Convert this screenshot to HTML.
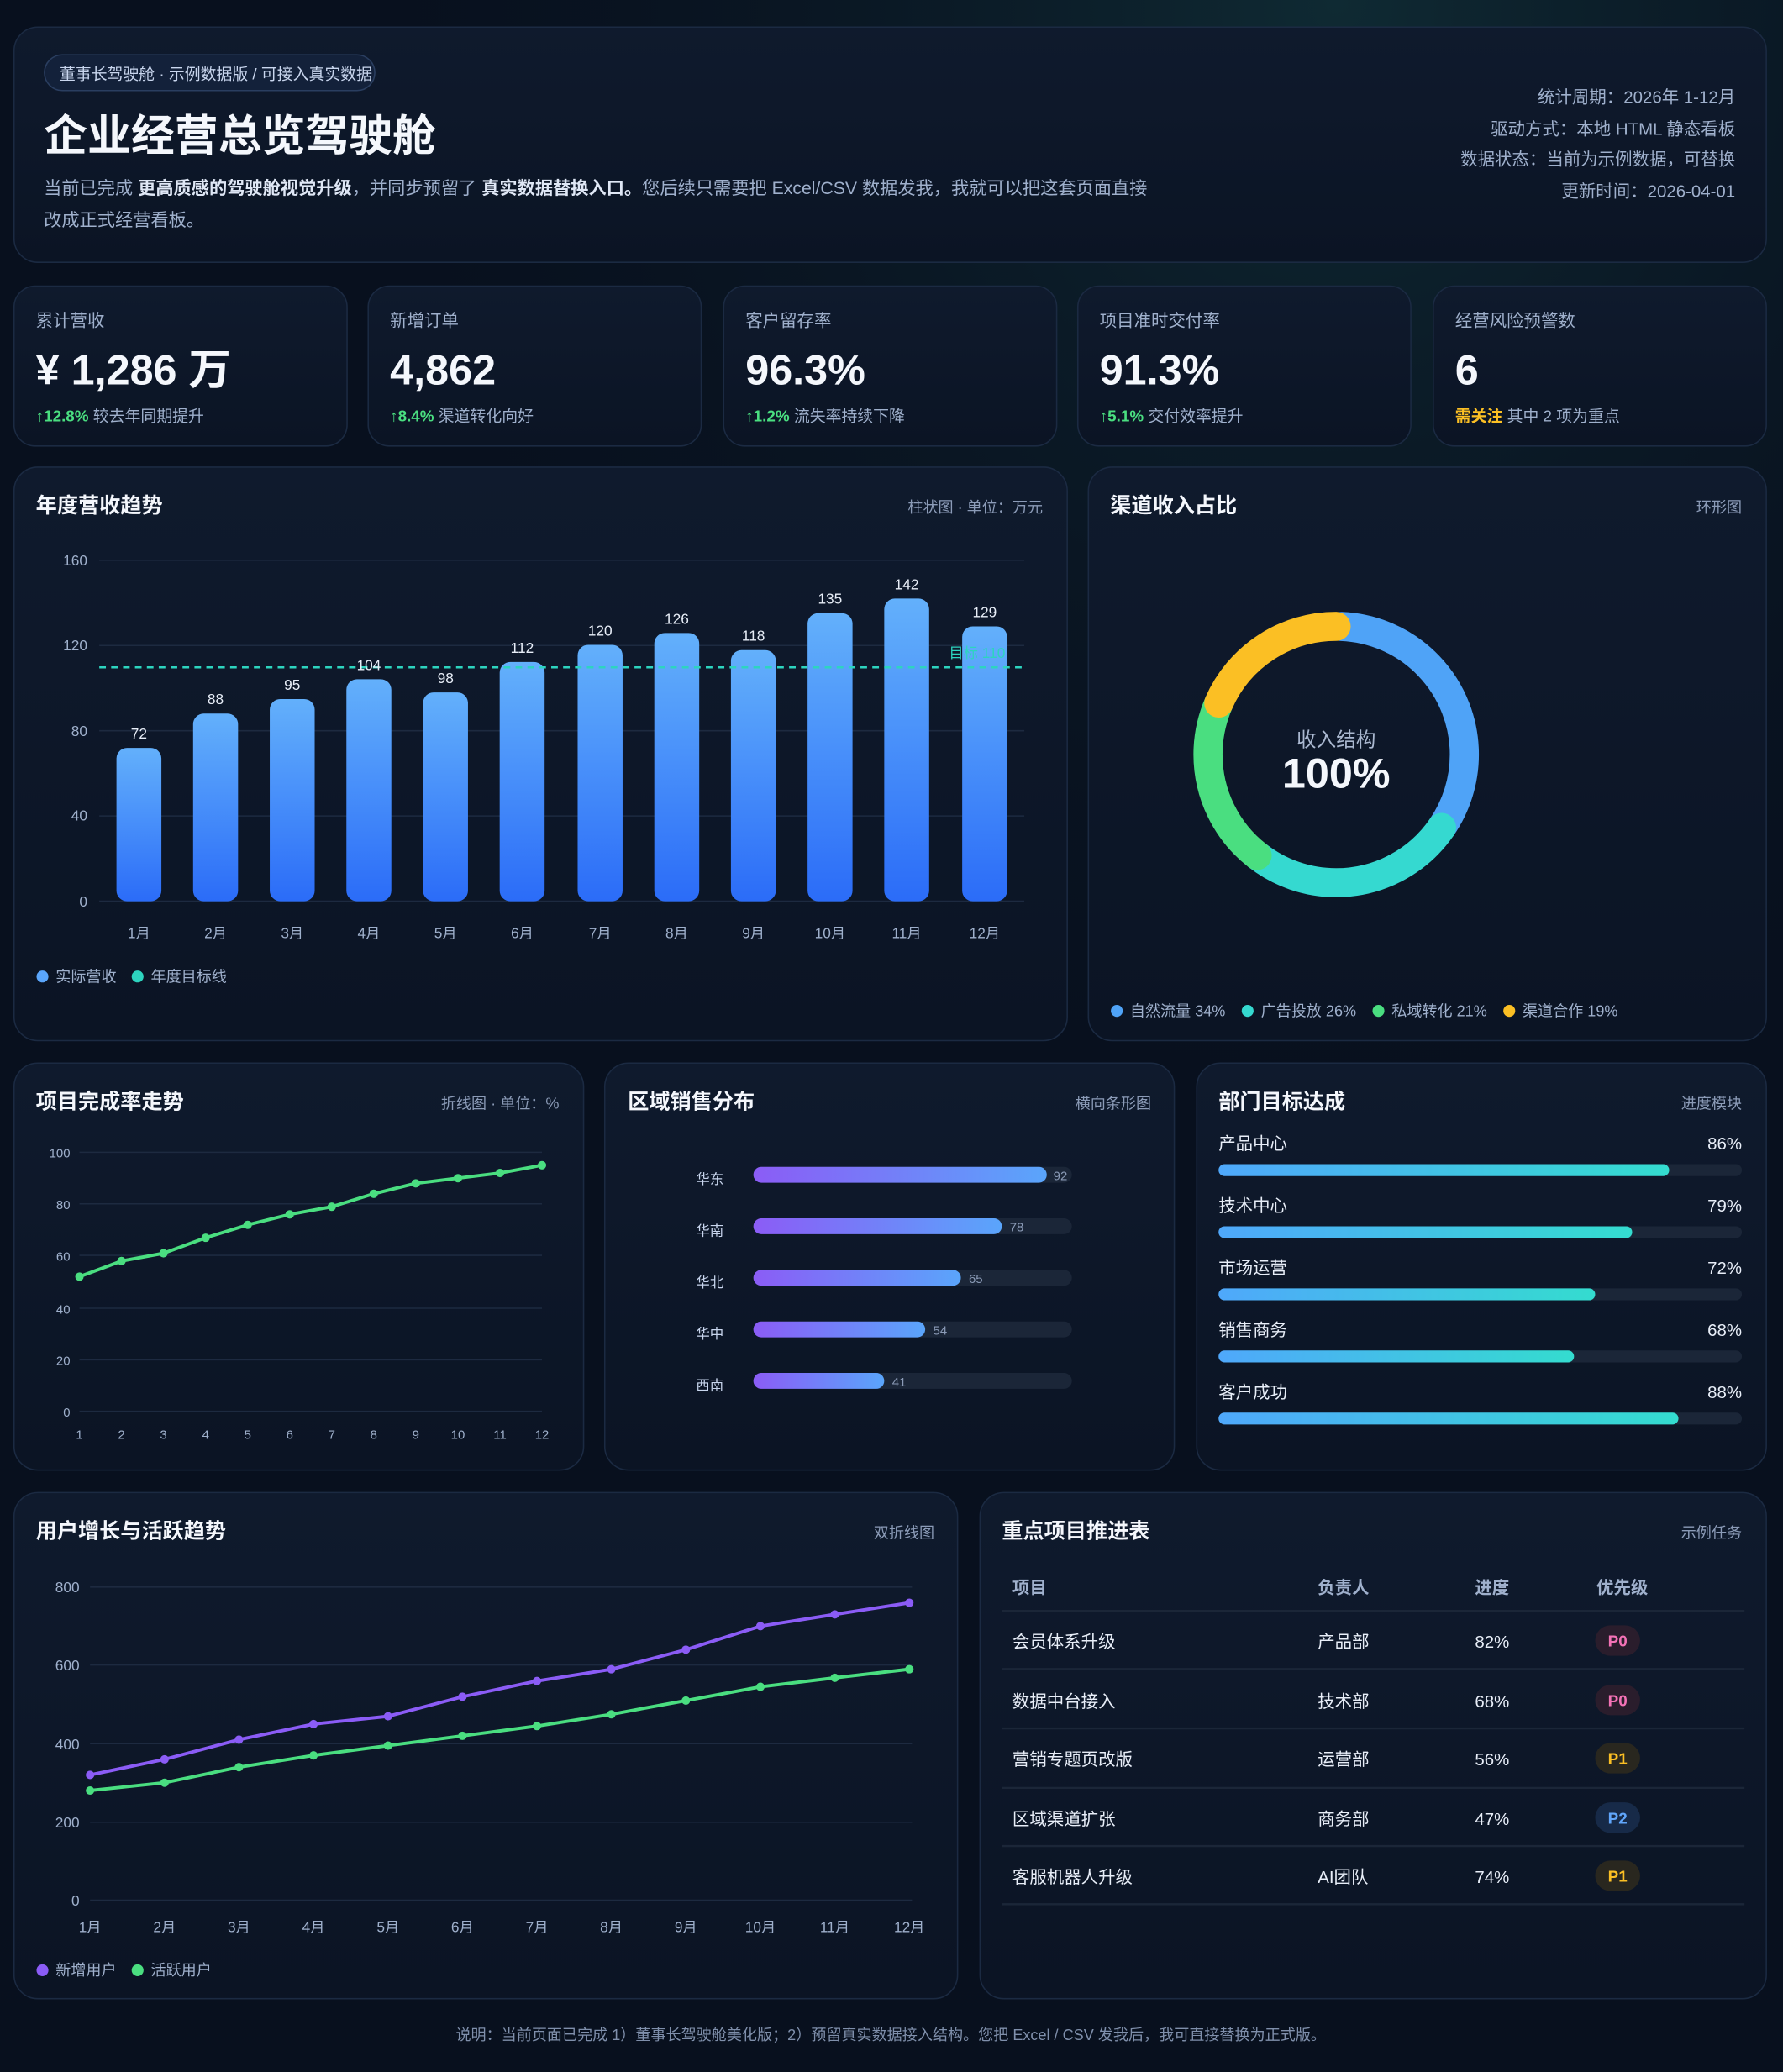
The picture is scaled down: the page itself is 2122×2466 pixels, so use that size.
<!DOCTYPE html>
<html><head><meta charset="utf-8"><style>
html,body{margin:0;padding:0;background:#08101e;}
svg{display:block;font-family:"Liberation Sans","Noto Sans CJK SC",sans-serif;}
</style></head><body>
<svg width="2122" height="2466" viewBox="0 0 1349 1568" xmlns="http://www.w3.org/2000/svg">
<defs>
<radialGradient id="bgg" cx="0.75" cy="0" r="0.6"><stop offset="0" stop-color="#0f2a33"/><stop offset="1" stop-color="#08101e" stop-opacity="0"/></radialGradient>
<linearGradient id="pan" x1="0" y1="0" x2="0" y2="1"><stop offset="0" stop-color="#0f1a2d"/><stop offset="1" stop-color="#0b1424"/></linearGradient>
<linearGradient id="bar" x1="0" y1="0" x2="0" y2="1"><stop offset="0" stop-color="#63b0fb"/><stop offset="1" stop-color="#2b6cf8"/></linearGradient>
<linearGradient id="hb" x1="0" y1="0" x2="1" y2="0"><stop offset="0" stop-color="#8b5cf6"/><stop offset="1" stop-color="#5aa5fb"/></linearGradient>
<linearGradient id="pb" x1="0" y1="0" x2="1" y2="0"><stop offset="0" stop-color="#4fa8fb"/><stop offset="1" stop-color="#34dccf"/></linearGradient>
</defs>
<rect width="1349" height="1568" fill="#08101e"/>
<rect width="1349" height="1568" fill="url(#bgg)"/>
<g fill="url(#pan)" stroke="#1b2a42" stroke-width="1">
<rect x="10.5" y="20.5" width="1326" height="178" rx="18"/>
<rect x="10.5" y="216.5" width="252" height="121" rx="16"/>
<rect x="278.5" y="216.5" width="252" height="121" rx="16"/>
<rect x="547.5" y="216.5" width="252" height="121" rx="16"/>
<rect x="815.5" y="216.5" width="252" height="121" rx="16"/>
<rect x="1084.5" y="216.5" width="252" height="121" rx="16"/>
<rect x="10.5" y="353.5" width="797" height="434" rx="18"/>
<rect x="823.5" y="353.5" width="513" height="434" rx="18"/>
<rect x="10.5" y="804.5" width="431" height="308" rx="18"/>
<rect x="457.5" y="804.5" width="431" height="308" rx="18"/>
<rect x="905.5" y="804.5" width="431" height="308" rx="18"/>
<rect x="10.5" y="1129.5" width="714" height="383" rx="18"/>
<rect x="741.5" y="1129.5" width="595" height="383" rx="18"/>
</g>
<!-- header -->
<rect x="33.5" y="41.5" width="250" height="27" rx="13.5" fill="#13213a" stroke="#2a3e60"/>
<text x="45" y="60" font-size="12" fill="#c9d6ee">董事长驾驶舱 · 示例数据版 / 可接入真实数据</text>
<text x="33" y="114" font-size="33" font-weight="bold" fill="#f4f7fc">企业经营总览驾驶舱</text>
<text x="33" y="147" font-size="13.5" fill="#9fb0cc">当前已完成 <tspan font-weight="bold" fill="#dfe7f5">更高质感的驾驶舱视觉升级</tspan>，并同步预留了 <tspan font-weight="bold" fill="#dfe7f5">真实数据替换入口。</tspan>您后续只需要把 Excel/CSV 数据发我，我就可以把这套页面直接</text>
<text x="33" y="171" font-size="13.5" fill="#9fb0cc">改成正式经营看板。</text>
<g font-size="13" fill="#9fb0cc" text-anchor="end">
<text x="1313" y="78">统计周期：2026年 1-12月</text>
<text x="1313" y="102">驱动方式：本地 HTML 静态看板</text>
<text x="1313" y="125">数据状态：当前为示例数据，可替换</text>
<text x="1313" y="149">更新时间：2026-04-01</text>
</g>
<!-- KPIs -->
<g font-size="13" fill="#9fb0cc">
<text x="27" y="247">累计营收</text><text x="295" y="247">新增订单</text><text x="564" y="247">客户留存率</text><text x="832" y="247">项目准时交付率</text><text x="1101" y="247">经营风险预警数</text>
</g>
<g font-size="32" font-weight="bold" fill="#f4f7fc">
<text x="27" y="291">¥ 1,286 万</text><text x="295" y="291">4,862</text><text x="564" y="291">96.3%</text><text x="832" y="291">91.3%</text><text x="1101" y="291">6</text>
</g>
<g font-size="12" fill="#9fb0cc">
<text x="27" y="319"><tspan fill="#4ade80" font-weight="bold">↑12.8%</tspan> 较去年同期提升</text>
<text x="295" y="319"><tspan fill="#4ade80" font-weight="bold">↑8.4%</tspan> 渠道转化向好</text>
<text x="564" y="319"><tspan fill="#4ade80" font-weight="bold">↑1.2%</tspan> 流失率持续下降</text>
<text x="832" y="319"><tspan fill="#4ade80" font-weight="bold">↑5.1%</tspan> 交付效率提升</text>
<text x="1101" y="319"><tspan fill="#fbbf24" font-weight="bold">需关注</tspan> 其中 2 项为重点</text>
</g>
<!-- panel titles -->
<g font-size="16" font-weight="bold" fill="#f4f7fc">
<text x="27" y="388">年度营收趋势</text><text x="840" y="388">渠道收入占比</text>
<text x="27" y="839">项目完成率走势</text><text x="475" y="839">区域销售分布</text><text x="922" y="839">部门目标达成</text>
<text x="27" y="1164">用户增长与活跃趋势</text><text x="758" y="1164">重点项目推进表</text>
</g>
<g font-size="11.5" fill="#8b9bb7" text-anchor="end">
<text x="789" y="388">柱状图 · 单位：万元</text><text x="1318" y="388">环形图</text>
<text x="423" y="839">折线图 · 单位：%</text><text x="871" y="839">横向条形图</text><text x="1318" y="839">进度模块</text>
<text x="707" y="1164">双折线图</text><text x="1318" y="1164">示例任务</text>
</g>
<!-- bar chart -->
<g stroke="#1d2a40" stroke-width="1">
<line x1="75" y1="424" x2="775" y2="424"/><line x1="75" y1="488.5" x2="775" y2="488.5"/><line x1="75" y1="553" x2="775" y2="553"/><line x1="75" y1="617.5" x2="775" y2="617.5"/><line x1="75" y1="682" x2="775" y2="682"/>
</g>
<g font-size="11" fill="#9fb0cc" text-anchor="end">
<text x="66" y="428">160</text><text x="66" y="492">120</text><text x="66" y="557">80</text><text x="66" y="621">40</text><text x="66" y="686">0</text>
</g>
<g fill="url(#bar)">
<rect x="88" y="566" width="34" height="116" rx="8"/>
<rect x="146" y="540" width="34" height="142" rx="8"/>
<rect x="204" y="529" width="34" height="153" rx="8"/>
<rect x="262" y="514" width="34" height="168" rx="8"/>
<rect x="320" y="524" width="34" height="158" rx="8"/>
<rect x="378" y="501" width="34" height="181" rx="8"/>
<rect x="437" y="488" width="34" height="194" rx="8"/>
<rect x="495" y="479" width="34" height="203" rx="8"/>
<rect x="553" y="492" width="34" height="190" rx="8"/>
<rect x="611" y="464" width="34" height="218" rx="8"/>
<rect x="669" y="453" width="34" height="229" rx="8"/>
<rect x="728" y="474" width="34" height="208" rx="8"/>
</g>
<line x1="75" y1="505" x2="775" y2="505" stroke="#2dd4bf" stroke-width="1.6" stroke-dasharray="5,4"/>
<text x="718" y="498" font-size="11" fill="#2dd4bf">目标 110</text>
<g font-size="11" fill="#e8eef8" text-anchor="middle">
<text x="105" y="559">72</text><text x="163" y="533">88</text><text x="221" y="522">95</text><text x="279" y="507">104</text><text x="337" y="517">98</text><text x="395" y="494">112</text><text x="454" y="481">120</text><text x="512" y="472">126</text><text x="570" y="485">118</text><text x="628" y="457">135</text><text x="686" y="446">142</text><text x="745" y="467">129</text>
</g>
<g font-size="11" fill="#9fb0cc" text-anchor="middle">
<text x="105" y="710">1月</text><text x="163" y="710">2月</text><text x="221" y="710">3月</text><text x="279" y="710">4月</text><text x="337" y="710">5月</text><text x="395" y="710">6月</text><text x="454" y="710">7月</text><text x="512" y="710">8月</text><text x="570" y="710">9月</text><text x="628" y="710">10月</text><text x="686" y="710">11月</text><text x="745" y="710">12月</text>
</g>
<circle cx="32" cy="739" r="4.5" fill="#5aa5fb"/><text x="42" y="743" font-size="11.5" fill="#9fb0cc">实际营收</text>
<circle cx="104" cy="739" r="4.5" fill="#2dd4bf"/><text x="114" y="743" font-size="11.5" fill="#9fb0cc">年度目标线</text>
<!-- donut -->
<g fill="none" stroke-width="22" stroke-linecap="round" transform="rotate(-90 1011 571)">
<circle cx="1011" cy="571" r="97" stroke="#4fa3f7" stroke-dasharray="207 610" stroke-dashoffset="-4"/>
<circle cx="1011" cy="571" r="97" stroke="#35d9d0" stroke-dasharray="158 610" stroke-dashoffset="-211"/>
<circle cx="1011" cy="571" r="97" stroke="#4ade80" stroke-dasharray="128 610" stroke-dashoffset="-369"/>
<circle cx="1011" cy="571" r="97" stroke="#fbbf24" stroke-dasharray="114 610" stroke-dashoffset="-497"/>
</g>
<text x="1011" y="565" font-size="15" fill="#aab8d0" text-anchor="middle">收入结构</text>
<text x="1011" y="596" font-size="32" font-weight="bold" fill="#f4f7fc" text-anchor="middle">100%</text>
<g font-size="11.5" fill="#9fb0cc">
<circle cx="845" cy="765" r="4.5" fill="#4fa3f7"/><text x="855" y="769">自然流量 34%</text>
<circle cx="944" cy="765" r="4.5" fill="#35d9d0"/><text x="954" y="769">广告投放 26%</text>
<circle cx="1043" cy="765" r="4.5" fill="#4ade80"/><text x="1053" y="769">私域转化 21%</text>
<circle cx="1142" cy="765" r="4.5" fill="#fbbf24"/><text x="1152" y="769">渠道合作 19%</text>
</g>
<!-- line chart 1 -->
<g stroke="#1d2a40"><line x1="60" y1="872" x2="410" y2="872"/><line x1="60" y1="911" x2="410" y2="911"/><line x1="60" y1="950" x2="410" y2="950"/><line x1="60" y1="990" x2="410" y2="990"/><line x1="60" y1="1029" x2="410" y2="1029"/><line x1="60" y1="1068" x2="410" y2="1068"/></g>
<g font-size="9.5" fill="#9fb0cc" text-anchor="end"><text x="53" y="876">100</text><text x="53" y="915">80</text><text x="53" y="954">60</text><text x="53" y="994">40</text><text x="53" y="1033">20</text><text x="53" y="1072">0</text></g>
<polyline fill="none" stroke="#4ade80" stroke-width="2.5" points="60,966.1 91.8,954.3 123.6,948.4 155.5,936.7 187.3,926.9 219.1,919 250.9,913.2 282.7,903.4 314.5,895.5 346.4,891.6 378.2,887.7 410,881.8"/>
<g fill="#4ade80"><circle cx="60" cy="966.1" r="3.2"/><circle cx="91.8" cy="954.3" r="3.2"/><circle cx="123.6" cy="948.4" r="3.2"/><circle cx="155.5" cy="936.7" r="3.2"/><circle cx="187.3" cy="926.9" r="3.2"/><circle cx="219.1" cy="919" r="3.2"/><circle cx="250.9" cy="913.2" r="3.2"/><circle cx="282.7" cy="903.4" r="3.2"/><circle cx="314.5" cy="895.5" r="3.2"/><circle cx="346.4" cy="891.6" r="3.2"/><circle cx="378.2" cy="887.7" r="3.2"/><circle cx="410" cy="881.8" r="3.2"/></g>
<g font-size="9.5" fill="#9fb0cc" text-anchor="middle"><text x="60" y="1089">1</text><text x="91.8" y="1089">2</text><text x="123.6" y="1089">3</text><text x="155.5" y="1089">4</text><text x="187.3" y="1089">5</text><text x="219.1" y="1089">6</text><text x="250.9" y="1089">7</text><text x="282.7" y="1089">8</text><text x="314.5" y="1089">9</text><text x="346.4" y="1089">10</text><text x="378.2" y="1089">11</text><text x="410" y="1089">12</text></g>
<!-- horizontal bars -->
<g font-size="10.5" fill="#c9d6ee" text-anchor="middle"><text x="537" y="896">华东</text><text x="537" y="935">华南</text><text x="537" y="974">华北</text><text x="537" y="1013">华中</text><text x="537" y="1052">西南</text></g>
<g fill="#1b2638"><rect x="570" y="883" width="241" height="12" rx="6"/><rect x="570" y="922" width="241" height="12" rx="6"/><rect x="570" y="961" width="241" height="12" rx="6"/><rect x="570" y="1000" width="241" height="12" rx="6"/><rect x="570" y="1039" width="241" height="12" rx="6"/></g>
<g fill="url(#hb)"><rect x="570" y="883" width="222" height="12" rx="6"/><rect x="570" y="922" width="188" height="12" rx="6"/><rect x="570" y="961" width="157" height="12" rx="6"/><rect x="570" y="1000" width="130" height="12" rx="6"/><rect x="570" y="1039" width="99" height="12" rx="6"/></g>
<g font-size="9.5" fill="#8b9bb7"><text x="797" y="893">92</text><text x="764" y="932">78</text><text x="733" y="971">65</text><text x="706" y="1010">54</text><text x="675" y="1049">41</text></g>
<!-- dept progress -->
<g font-size="13" fill="#e8eef8">
<text x="922" y="870">产品中心</text><text x="922" y="917">技术中心</text><text x="922" y="964">市场运营</text><text x="922" y="1011">销售商务</text><text x="922" y="1058">客户成功</text>
</g>
<g font-size="13" fill="#e8eef8" text-anchor="end">
<text x="1318" y="870">86%</text><text x="1318" y="917">79%</text><text x="1318" y="964">72%</text><text x="1318" y="1011">68%</text><text x="1318" y="1058">88%</text>
</g>
<g fill="#1b2638"><rect x="922" y="881" width="396" height="9" rx="4.5"/><rect x="922" y="928" width="396" height="9" rx="4.5"/><rect x="922" y="975" width="396" height="9" rx="4.5"/><rect x="922" y="1022" width="396" height="9" rx="4.5"/><rect x="922" y="1069" width="396" height="9" rx="4.5"/></g>
<g fill="url(#pb)"><rect x="922" y="881" width="341" height="9" rx="4.5"/><rect x="922" y="928" width="313" height="9" rx="4.5"/><rect x="922" y="975" width="285" height="9" rx="4.5"/><rect x="922" y="1022" width="269" height="9" rx="4.5"/><rect x="922" y="1069" width="348" height="9" rx="4.5"/></g>
<!-- user chart -->
<g stroke="#1d2a40"><line x1="68" y1="1201" x2="690" y2="1201"/><line x1="68" y1="1260" x2="690" y2="1260"/><line x1="68" y1="1319.5" x2="690" y2="1319.5"/><line x1="68" y1="1379" x2="690" y2="1379"/><line x1="68" y1="1438" x2="690" y2="1438"/></g>
<g font-size="11" fill="#9fb0cc" text-anchor="end"><text x="60" y="1205">800</text><text x="60" y="1264">600</text><text x="60" y="1324">400</text><text x="60" y="1383">200</text><text x="60" y="1442">0</text></g>
<polyline fill="none" stroke="#8b5cf6" stroke-width="2.5" points="68,1343.2 124.4,1331.4 180.7,1316.5 237.1,1304.7 293.5,1298.8 349.8,1284 406.2,1272.1 462.5,1263.2 518.9,1248.4 575.3,1230.6 631.6,1221.7 688,1212.9"/>
<polyline fill="none" stroke="#4ade80" stroke-width="2.5" points="68,1355 124.4,1349.1 180.7,1337.3 237.1,1328.4 293.5,1321 349.8,1313.6 406.2,1306.2 462.5,1297.3 518.9,1286.9 575.3,1276.5 631.6,1269.7 688,1263.2"/>
<g fill="#8b5cf6"><circle cx="68" cy="1343.2" r="3.2"/><circle cx="124.4" cy="1331.4" r="3.2"/><circle cx="180.7" cy="1316.5" r="3.2"/><circle cx="237.1" cy="1304.7" r="3.2"/><circle cx="293.5" cy="1298.8" r="3.2"/><circle cx="349.8" cy="1284" r="3.2"/><circle cx="406.2" cy="1272.1" r="3.2"/><circle cx="462.5" cy="1263.2" r="3.2"/><circle cx="518.9" cy="1248.4" r="3.2"/><circle cx="575.3" cy="1230.6" r="3.2"/><circle cx="631.6" cy="1221.7" r="3.2"/><circle cx="688" cy="1212.9" r="3.2"/></g>
<g fill="#4ade80"><circle cx="68" cy="1355" r="3.2"/><circle cx="124.4" cy="1349.1" r="3.2"/><circle cx="180.7" cy="1337.3" r="3.2"/><circle cx="237.1" cy="1328.4" r="3.2"/><circle cx="293.5" cy="1321" r="3.2"/><circle cx="349.8" cy="1313.6" r="3.2"/><circle cx="406.2" cy="1306.2" r="3.2"/><circle cx="462.5" cy="1297.3" r="3.2"/><circle cx="518.9" cy="1286.9" r="3.2"/><circle cx="575.3" cy="1276.5" r="3.2"/><circle cx="631.6" cy="1269.7" r="3.2"/><circle cx="688" cy="1263.2" r="3.2"/></g>
<g font-size="11" fill="#9fb0cc" text-anchor="middle"><text x="68" y="1462">1月</text><text x="124.4" y="1462">2月</text><text x="180.7" y="1462">3月</text><text x="237.1" y="1462">4月</text><text x="293.5" y="1462">5月</text><text x="349.8" y="1462">6月</text><text x="406.2" y="1462">7月</text><text x="462.5" y="1462">8月</text><text x="518.9" y="1462">9月</text><text x="575.3" y="1462">10月</text><text x="631.6" y="1462">11月</text><text x="688" y="1462">12月</text></g>
<circle cx="32" cy="1491" r="4.5" fill="#8b5cf6"/><text x="42" y="1495" font-size="11.5" fill="#9fb0cc">新增用户</text>
<circle cx="104" cy="1491" r="4.5" fill="#4ade80"/><text x="114" y="1495" font-size="11.5" fill="#9fb0cc">活跃用户</text>
<!-- table -->
<g font-size="13" font-weight="bold" fill="#9fb0cc"><text x="766" y="1206">项目</text><text x="997" y="1206">负责人</text><text x="1116" y="1206">进度</text><text x="1208" y="1206">优先级</text></g>
<g stroke="#1b2638" stroke-width="1.5"><line x1="758" y1="1219" x2="1320" y2="1219"/><line x1="758" y1="1263" x2="1320" y2="1263"/><line x1="758" y1="1308" x2="1320" y2="1308"/><line x1="758" y1="1353" x2="1320" y2="1353"/><line x1="758" y1="1397" x2="1320" y2="1397"/><line x1="758" y1="1441" x2="1320" y2="1441"/></g>
<g font-size="13" fill="#e8eef8">
<text x="766" y="1247">会员体系升级</text><text x="997" y="1247">产品部</text><text x="1116" y="1247">82%</text>
<text x="766" y="1292">数据中台接入</text><text x="997" y="1292">技术部</text><text x="1116" y="1292">68%</text>
<text x="766" y="1336">营销专题页改版</text><text x="997" y="1336">运营部</text><text x="1116" y="1336">56%</text>
<text x="766" y="1381">区域渠道扩张</text><text x="997" y="1381">商务部</text><text x="1116" y="1381">47%</text>
<text x="766" y="1425">客服机器人升级</text><text x="997" y="1425">AI团队</text><text x="1116" y="1425">74%</text>
</g>
<g font-size="12" font-weight="bold" text-anchor="middle">
<rect x="1207" y="1230" width="34" height="23" rx="11.5" fill="#2a1d2c"/><text x="1224" y="1246" fill="#f472b6">P0</text>
<rect x="1207" y="1275" width="34" height="23" rx="11.5" fill="#2a1d2c"/><text x="1224" y="1291" fill="#f472b6">P0</text>
<rect x="1207" y="1319" width="34" height="23" rx="11.5" fill="#29271f"/><text x="1224" y="1335" fill="#fbbf24">P1</text>
<rect x="1207" y="1364" width="34" height="23" rx="11.5" fill="#172a48"/><text x="1224" y="1380" fill="#60a5fa">P2</text>
<rect x="1207" y="1408" width="34" height="23" rx="11.5" fill="#29271f"/><text x="1224" y="1424" fill="#fbbf24">P1</text>
</g>
<text x="674" y="1544" font-size="11.5" fill="#7f8fab" text-anchor="middle">说明：当前页面已完成 1）董事长驾驶舱美化版；2）预留真实数据接入结构。您把 Excel / CSV 发我后，我可直接替换为正式版。</text>
</svg>
</body></html>
